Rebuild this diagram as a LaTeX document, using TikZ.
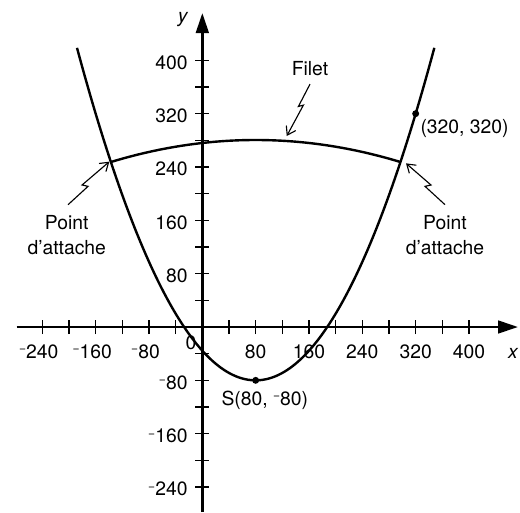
\documentclass[tikz,border=0pt]{standalone}
\usepackage{fontspec}
\setmainfont{TeX Gyre Heros}
\usetikzlibrary{arrows.meta}
\newcommand{\mns}{\raisebox{4pt}{\fontsize{9}{9}\selectfont −}}

\tikzset{every picture/.style={line width=0.75pt}}
\tikzset{
  axe/.style={line width=2pt,-{Triangle[length=15pt,width=9.5pt]}},
  courbe/.style={line width=1.8pt},
  graduation/.style={line width=1pt},
  eclair/.style={line width=0.85pt,-{Straight Barb[length=6pt,width=8pt]}},
  etiquette/.style={inner sep=0.75pt,font=\fontsize{14.5}{18.75}\selectfont},
}

\begin{document}
\begin{tikzpicture}[x=0.5pt,y=0.5pt]
\useasboundingbox (-303.5,-277.5) rectangle (476.5,490.5);

%Straight Lines : graduations
\foreach \t in {-240,-200,...,400}{
  \draw[graduation] (\t,-10.5) -- (\t,10.5);
  \draw[graduation] (-10.5,\t) -- (10.5,\t);
}
%Straight Lines : axes
\coordinate (xdeb) at (-278.4,0);
\coordinate (xfin) at (473.5,0);
\coordinate (ydeb) at (0,-277.5);
\coordinate (yfin) at (0,471);
\draw[axe] (xdeb) -- (xfin);
\draw[axe] (ydeb) -- (yfin);

%Curve Lines : parabole
\draw[courbe] plot[domain=-188:348,samples=120] (\x,{((\x-80)/12)*((\x-80)/12)-80});
%Curve Lines : filet
\draw[courbe] plot[domain=-137.2:297.2,samples=80] (\x,{280.5-((\x-80)/37.8)*((\x-80)/37.8)});

%Shape: Circle
\coordinate (S) at (80,-80);
\coordinate (P) at (320,320);
\fill (S) circle[radius=2.6pt];
\fill (P) circle[radius=2.6pt];

%points d'attache
\coordinate (attL) at (-139.5,248);
\coordinate (attR) at (305.5,245.5);
\coordinate (filetpt) at (126.6,286.5);

% Text Node
\foreach \u/\t in {-240/{\llap{\mns}240},-160/{\llap{\mns}160},-80/{\llap{\mns}80},80/80,160/160,240/240,320/320,400/400}{
  \node[etiquette,anchor=base] (gx\u) at (\u,-46.5) {\t};
}
% Text Node
\foreach \v/\t in {-240/{\mns240},-160/{\mns160},-80/{\mns80},80/80,160/160,240/240,320/320,400/400}{
  \node[etiquette,anchor=base east] (gy\v) at (-20,\v-13) {\t};
}
% Text Node
\node[etiquette,anchor=base] (zero) at (-17,-33.5) {0};
% Text Node
\node[etiquette,anchor=base] (lblx) at (466,-46.5) {\itshape x};
% Text Node
\node[etiquette,anchor=base] (lbly) at (-29.6,457) {\itshape y};
% Text Node
\node[etiquette,anchor=base west] (lblS) at (26.5,-117) {S(80, \mns80)};
% Text Node
\node[etiquette,anchor=base west] (lblP) at (325,290.5) {(320, 320)};
% Text Node
\node[etiquette,anchor=base] (filet) at (161.5,378) {Filet};
% Text Node
\node[etiquette,anchor=north,align=center] (ptL) at (-203.4,169.5) {Point\\d’attache};
% Text Node
\node[etiquette,anchor=north,align=center] (ptR) at (364,169.5) {Point\\d’attache};

%Straight Lines : eclairs
\draw[eclair] ([xshift=1pt,yshift=7pt]ptL.north) -- ++(30,27.5) -- ++(-9,2) -- (attL);
\draw[eclair] ([yshift=7pt]ptR.north) -- ++(-30,27.5) -- ++(9,2) -- (attR);
\draw[eclair] ([yshift=-5.5pt]filet.south) -- ++(-17.4,-33.5) -- ++(7.5,2) -- (filetpt);

\end{tikzpicture}
\end{document}
